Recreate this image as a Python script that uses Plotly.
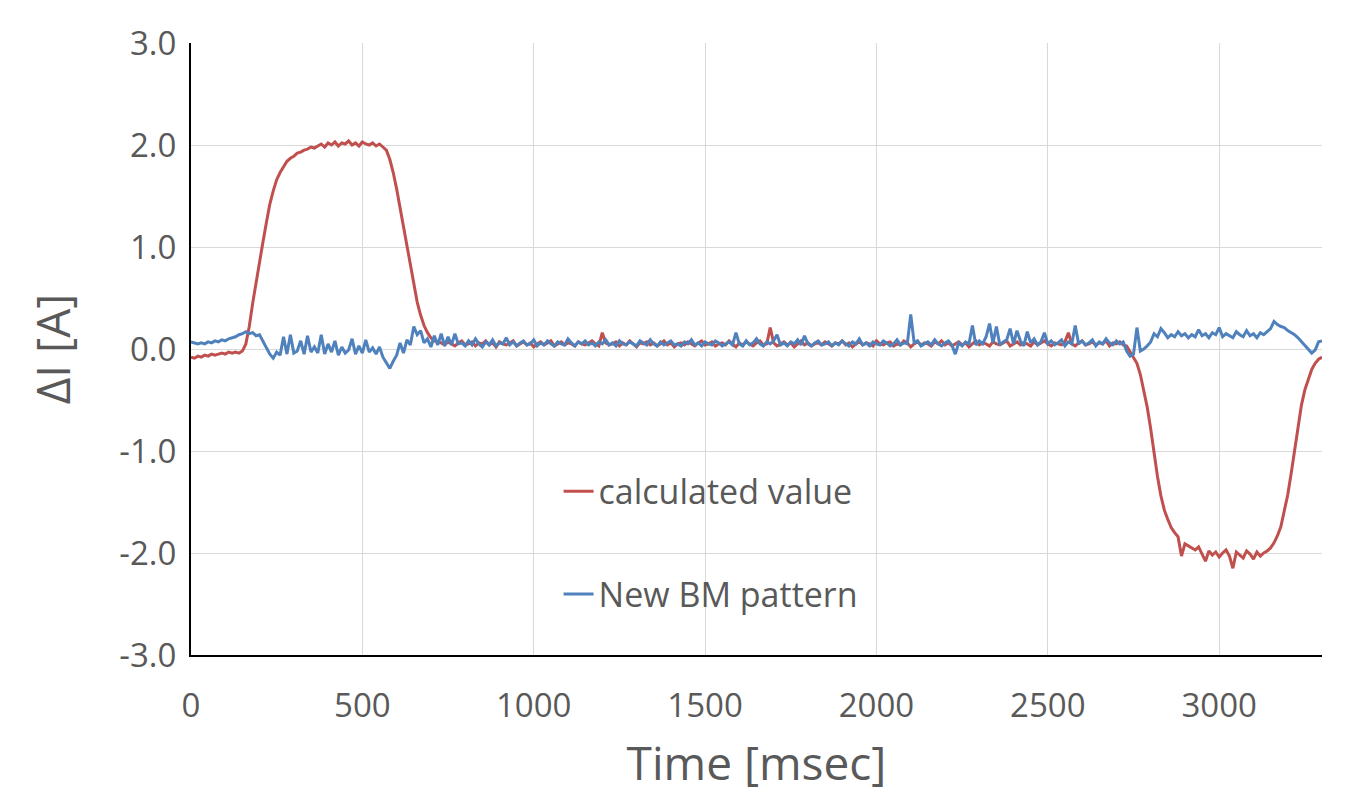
"""Current difference vs time: calculated value and new BM pattern."""

import plotly.graph_objects as go

RED = "#C0504D"
BLUE = "#4F81BD"
TEXT = "#595959"
FONT = "Open Sans"

# sampled every 10 msec, starting at 0
STEP_MS = 10

calculated_value = [
    # 0 - 150
    -0.08, -0.09, -0.07, -0.08, -0.06, -0.07, -0.05, -0.06, -0.05, -0.04, -0.05, -0.03, -0.04, -0.03, -0.04, -0.02,
    # 160 - 360
    0.05, 0.22, 0.45, 0.66, 0.87, 1.05, 1.24, 1.42, 1.55, 1.66, 1.73, 1.79, 1.84, 1.87, 1.89, 1.92, 1.93, 1.95, 1.96, 1.98, 1.97,
    # 370 - 570
    1.99, 2.01, 1.98, 2.02, 2.00, 2.03, 1.99, 2.02, 2.01, 2.04, 2.00, 2.02, 1.99, 2.03, 2.01, 2.00, 2.02, 1.99, 2.01, 1.98, 1.95,
    # 580 - 720
    1.86, 1.73, 1.57, 1.39, 1.19, 0.99, 0.81, 0.63, 0.46, 0.33, 0.23, 0.16, 0.11, 0.08, 0.07,
    # 730 - 2720
    0.06, 0.04, 0.07, 0.05, 0.03, 0.06, 0.08, 0.04, 0.05, 0.07,
    0.03, 0.06, 0.05, 0.08, 0.04, 0.06, 0.02, 0.07, 0.05, 0.04,
    0.06, 0.08, 0.03, 0.05, 0.07, 0.04, 0.06, 0.02, 0.05, 0.07,
    0.04, 0.06, 0.08, 0.03, 0.05, 0.07, 0.04, 0.06, 0.05, 0.03,
    0.07, 0.05, 0.04, 0.06, 0.08, 0.05, 0.03, 0.16, 0.06, 0.04,
    0.05, 0.07, 0.03, 0.06, 0.04, 0.08, 0.05, 0.02, 0.06, 0.05,
    0.07, 0.04, 0.06, 0.03, 0.05, 0.08, 0.04, 0.06, 0.02, 0.05,
    0.06, 0.04, 0.07, 0.05, 0.03, 0.06, 0.08, 0.04, 0.05, 0.07,
    0.03, 0.05, 0.06, 0.04, 0.08, 0.05, 0.02, 0.06, 0.04, 0.07,
    0.05, 0.03, 0.06, 0.08, 0.04, 0.05, 0.21, 0.06, 0.03, 0.05,
    0.07, 0.04, 0.06, 0.02, 0.05, 0.08, 0.04, 0.06, 0.03, 0.05,
    0.06, 0.04, 0.07, 0.05, 0.03, 0.06, 0.05, 0.08, 0.04, 0.06,
    0.02, 0.05, 0.07, 0.04, 0.06, 0.05, 0.03, 0.08, 0.05, 0.04,
    0.06, 0.07, 0.03, 0.05, 0.04, 0.08, 0.06, 0.02, 0.05, 0.07,
    0.04, 0.06, 0.05, 0.03, 0.07, 0.05, 0.08, 0.04, 0.06, 0.03,
    0.05, 0.07, 0.04, 0.06, 0.02, 0.05, 0.08, 0.04, 0.06, 0.05,
    0.03, 0.07, 0.05, 0.04, 0.06, 0.08, 0.03, 0.05, 0.07, 0.04,
    0.06, 0.05, 0.03, 0.07, 0.04, 0.06, 0.08, 0.05, 0.03, 0.06,
    0.05, 0.04, 0.07, 0.16, 0.05, 0.03, 0.06, 0.08, 0.04, 0.05,
    0.07, 0.04, 0.06, 0.05, 0.08, 0.03, 0.06, 0.05, 0.07, 0.04,
    # 2730 - 3300
    0.03, -0.03, -0.09, -0.14, -0.25, -0.40, -0.57, -0.78, -1.02, -1.25,
    -1.44, -1.58, -1.67, -1.75, -1.80, -1.84, -2.03, -1.91, -1.93, -1.95,
    -1.97, -1.94, -2.01, -2.08, -1.98, -2.02, -1.99, -2.04, -2.00, -1.97,
    -2.03, -2.15, -1.99, -2.02, -2.05, -1.98, -2.01, -2.06, -1.99, -2.03,
    -2.00, -1.98, -1.95, -1.90, -1.83, -1.74, -1.60, -1.43, -1.22, -0.99,
    -0.76, -0.55, -0.40, -0.29, -0.20, -0.14, -0.10, -0.08,
]

new_bm_pattern = [
    # 0 - 150
    0.07, 0.06, 0.05, 0.06, 0.05, 0.07, 0.06, 0.08, 0.07, 0.09, 0.08, 0.10, 0.11, 0.12, 0.14, 0.15,
    # 160 - 350
    0.17, 0.15, 0.16, 0.13, 0.14, 0.08, 0.02, -0.05, -0.09, -0.03, -0.06, 0.12, -0.05, 0.14, -0.04, -0.02, 0.08, -0.05, 0.13, -0.03,
    # 360 - 550
    0.02, -0.04, 0.14, -0.05, 0.05, -0.03, 0.08, -0.06, 0.02, -0.04, -0.01, 0.10, -0.05, 0.03, -0.04, 0.09, -0.03, 0.01, -0.05, 0.02,
    # 560 - 780
    -0.08, -0.14, -0.19, -0.12, -0.06, 0.06, -0.04, 0.09, 0.04, 0.22, 0.14, 0.18, 0.06, 0.10, 0.02, 0.13, 0.04, 0.15, 0.03, 0.12,
    0.04, 0.15, 0.05,
    # 790 - 2720
    0.06, 0.03, 0.08, 0.04, 0.10, 0.05, 0.02, 0.07, 0.04, 0.09,
    0.03, 0.06, 0.05, 0.11, 0.04, 0.07, 0.03, 0.06, 0.08, 0.04,
    0.05, 0.09, 0.03, 0.06, 0.04, 0.08, 0.05, 0.03, 0.07, 0.05,
    0.04, 0.10, 0.06, 0.03, 0.07, 0.05, 0.08, 0.04, 0.06, 0.03,
    0.07, 0.05, 0.09, 0.04, 0.06, 0.03, 0.08, 0.05, 0.04, 0.07,
    0.05, 0.03, 0.08, 0.06, 0.04, 0.09, 0.05, 0.03, 0.07, 0.04,
    0.06, 0.08, 0.04, 0.05, 0.03, 0.07, 0.05, 0.09, 0.04, 0.06,
    0.03, 0.07, 0.05, 0.04, 0.08, 0.06, 0.03, 0.05, 0.07, 0.04,
    0.16, 0.05, 0.03, 0.08, 0.04, 0.06, 0.10, 0.05, 0.03, 0.07,
    0.05, 0.08, 0.14, 0.04, 0.06, 0.03, 0.07, 0.05, 0.09, 0.04,
    0.13, 0.05, 0.03, 0.06, 0.08, 0.04, 0.05, 0.07, 0.03, 0.06,
    0.04, 0.08, 0.05, 0.03, 0.07, 0.05, 0.10, 0.04, 0.06, 0.03,
    0.07, 0.05, 0.04, 0.08, 0.06, 0.03, 0.05, 0.09, 0.04, 0.06,
    0.05, 0.34, 0.06, 0.08, 0.03, 0.05, 0.07, 0.04, 0.09, 0.05,
    0.03, 0.06, 0.08, 0.04, -0.05, 0.06, 0.03, 0.07, 0.05, 0.23,
    0.04, 0.08, 0.05, 0.12, 0.25, 0.06, 0.22, 0.04, 0.07, 0.09,
    0.20, 0.05, 0.18, 0.08, 0.03, 0.17, 0.06, 0.10, 0.04, 0.07,
    0.16, 0.05, 0.08, 0.04, 0.06, 0.09, 0.03, 0.07, 0.05, 0.23,
    0.05, 0.08, 0.04, 0.06, 0.09, 0.03, 0.07, 0.05, 0.10, 0.06,
    0.04, 0.08, 0.05, 0.07,
    # 2730 - 3300
    -0.02, -0.07, -0.05, 0.21, -0.02, 0.00, 0.03, 0.07, 0.15, 0.12,
    0.20, 0.16, 0.11, 0.14, 0.12, 0.17, 0.13, 0.15, 0.11, 0.14,
    0.12, 0.19, 0.13, 0.15, 0.11, 0.16, 0.14, 0.21, 0.12, 0.15,
    0.13, 0.11, 0.17, 0.14, 0.12, 0.18, 0.13, 0.15, 0.11, 0.16,
    0.14, 0.17, 0.20, 0.27, 0.24, 0.22, 0.21, 0.18, 0.16, 0.14,
    0.11, 0.07, 0.03, -0.01, -0.04, -0.01, 0.07, 0.08,
]

x_ticks = [0, 500, 1000, 1500, 2000, 2500, 3000]
y_ticks = [-3.0, -2.0, -1.0, 0.0, 1.0, 2.0, 3.0]
y_tick_labels = ["-3.0", "-2.0", "-1.0", "0.0", "1.0", "2.0", "3.0"]

time_calc = [i * STEP_MS for i in range(len(calculated_value))]
time_bm = [i * STEP_MS for i in range(len(new_bm_pattern))]

fig = go.Figure()
fig.add_trace(go.Scatter(
    x=time_calc, y=calculated_value, mode="lines", name="calculated value",
    line=dict(color=RED, width=3), legend="legend", showlegend=True,
))
fig.add_trace(go.Scatter(
    x=time_bm, y=new_bm_pattern, mode="lines", name="New BM pattern",
    line=dict(color=BLUE, width=3), legend="legend2", showlegend=True,
))

legend_style = dict(
    font=dict(family=FONT, size=34, color=TEXT),
    bgcolor="rgba(0,0,0,0)", xanchor="left", yanchor="middle", itemwidth=30,
)

fig.update_layout(
    width=1359, height=802,
    margin=dict(l=183, r=45, t=27, b=155),
    paper_bgcolor="white", plot_bgcolor="white",
    font=dict(family=FONT, color=TEXT),
    showlegend=True,
    legend=dict(x=0.325, y=0.267, **legend_style),
    legend2=dict(x=0.325, y=0.099, **legend_style),
    xaxis=dict(
        range=[0, 3300], tickvals=x_ticks,
        showgrid=True, gridcolor="#D9D9D9", gridwidth=1,
        showline=True, linecolor="black", linewidth=2, zeroline=False,
        ticks="", tickfont=dict(family=FONT, size=33, color=TEXT),
        ticklabelstandoff=20,
        title=dict(text="Time [msec]", font=dict(family=FONT, size=46, color=TEXT), standoff=22),
    ),
    yaxis=dict(
        range=[-3, 3], tickvals=y_ticks, ticktext=y_tick_labels,
        showgrid=True, gridcolor="#D9D9D9", gridwidth=1,
        showline=True, linecolor="black", linewidth=2, zeroline=False,
        ticks="", tickfont=dict(family=FONT, size=33, color=TEXT),
        ticklabelstandoff=6,
        title=dict(text="ΔI [A]", font=dict(family=FONT, size=46, color=TEXT), standoff=34),
    ),
)

fig.write_html("out.html")
